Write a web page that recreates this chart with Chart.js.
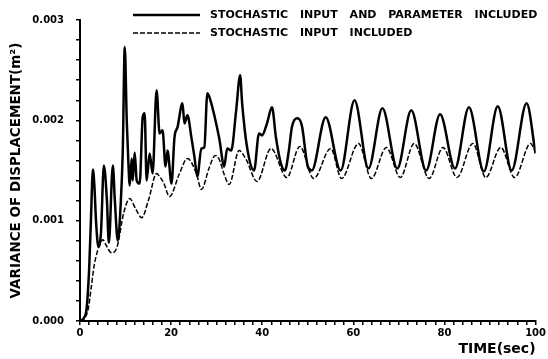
<!DOCTYPE html>
<html>
<head>
<meta charset="utf-8">
<script src="https://cdn.jsdelivr.net/npm/chart.js@4"></script>
<style>
  html, body { margin: 0; padding: 0; background: #fff; }
  #wrap { width: 548px; height: 359px; position: relative; }
</style>
</head>
<body>
<div id="wrap"><canvas id="chart"></canvas></div>
<script>
// variance values, in units of 1e-3 m^2
const seriesLabels = ['STOCHASTIC INPUT AND PARAMETER INCLUDED', 'STOCHASTIC INPUT INCLUDED'];

const paramTime = [0, 1.3, 2.0, 2.4, 2.84, 3.17, 3.5, 4.04, 4.6, 5.24, 5.9, 6.33, 7.21, 7.64, 8.3, 8.95, 9.39, 9.83,
  10.26, 10.6, 10.92, 11.35, 11.57, 12.0, 12.45, 13.1, 13.76, 14.19, 14.63, 15.28, 15.94, 16.81, 17.47, 18.12, 18.78,
  19.21, 20.09, 20.74, 21.4, 22.49, 22.93, 23.58, 24.45, 25.11, 25.76, 26.64, 27.29, 27.95, 28.82, 29.48, 30.57,
  31.66, 32.31, 33.19, 34.28, 35.15, 35.59, 36.68, 38.21, 39.3, 39.96, 41.05, 42.14, 43.01, 44.1, 44.98, 45.85,
  46.51, 47.6, 48.69, 50.0, 50.87, 53.93, 57.21, 60.26, 63.32, 66.38, 69.65, 72.71, 75.98, 79.04, 82.31, 85.37,
  88.65, 91.7, 94.76, 98.03, 100];
const paramVar = [0, 0.08, 0.51, 1.01, 1.51, 1.34, 1.01, 0.74, 0.88, 1.55, 1.21, 0.78, 1.55, 1.21, 0.8, 1.18, 1.7, 2.73,
  2.0, 1.6, 1.35, 1.62, 1.4, 1.68, 1.4, 1.37, 2.03, 2.07, 1.4, 1.67, 1.47, 2.3, 1.87, 1.9, 1.54,
  1.7, 1.37, 1.83, 1.93, 2.17, 1.97, 2.05, 1.83, 1.64, 1.44, 1.72, 1.73, 2.27, 2.17, 2.05, 1.82,
  1.54, 1.72, 1.7, 2.1, 2.45, 2.17, 1.73, 1.5, 1.87, 1.85, 1.97, 2.13, 1.83, 1.57, 1.5, 1.7,
  1.93, 2.02, 1.95, 1.54, 1.5, 2.03, 1.5, 2.2, 1.52, 2.12, 1.52, 2.1, 1.5, 2.06, 1.52, 2.13,
  1.49, 2.14, 1.5, 2.17, 1.67];

const inputTime = [0, 0.87, 1.75, 2.4, 3.06, 3.93, 5.02, 5.68, 6.88, 8.08, 9.61, 10.92, 12.2, 13.54, 15.07, 16.81,
  17.47, 18.34, 19.65, 21.83, 23.58, 25.55, 26.64, 28.38, 29.69, 30.57, 31.66, 32.75, 34.93, 36.46, 38.86, 41.92,
  45.41, 48.25, 51.31, 55.02, 57.42, 61.14, 63.97, 67.25, 70.31, 73.36, 76.64, 79.69, 82.75, 86.24, 89.08, 92.36,
  95.41, 98.91, 100];
const inputVar = [0, 0.02, 0.11, 0.31, 0.54, 0.71, 0.81, 0.76, 0.68, 0.73, 1.08, 1.22, 1.12, 1.03, 1.21, 1.47,
  1.44, 1.38, 1.24, 1.47, 1.62, 1.47, 1.31, 1.53, 1.65, 1.61, 1.46, 1.36, 1.7, 1.61, 1.39, 1.72,
  1.43, 1.74, 1.42, 1.72, 1.42, 1.77, 1.42, 1.73, 1.43, 1.77, 1.42, 1.73, 1.43, 1.77, 1.43, 1.73,
  1.43, 1.77, 1.68];

const UNIT = 1e-3;
const xMax = 100;
const yMax = 0.003;

function toPoints(ts, vs) {
  return ts.map((t, i) => ({ x: t, y: vs[i] * UNIT }));
}

const FONT = '"DejaVu Sans", sans-serif';

// legend drawn at the top, lines to the left of the labels
const legendPlugin = {
  id: 'topLegend',
  afterDraw(chart) {
    const ctx = chart.ctx;
    ctx.save();
    chart.data.datasets.forEach((ds, i) => {
      const y = 15 + i * 18;
      ctx.beginPath();
      ctx.strokeStyle = '#000';
      ctx.lineWidth = ds.borderWidth;
      ctx.setLineDash(ds.borderDash || []);
      ctx.moveTo(133, y);
      ctx.lineTo(200, y);
      ctx.stroke();
      ctx.setLineDash([]);
      ctx.fillStyle = '#000';
      ctx.font = 'bold 11px ' + FONT;
      ctx.textBaseline = 'middle';
      ctx.wordSpacing = '8px';
      ctx.fillText(ds.label, 210, y);
    });
    ctx.restore();
  }
};

const ctx = document.getElementById('chart').getContext('2d');
new Chart(ctx, {
  type: 'line',
  data: {
    datasets: [
      {
        label: seriesLabels[0],
        data: toPoints(paramTime, paramVar),
        borderColor: '#000',
        borderWidth: 2.5,
        pointRadius: 0,
        cubicInterpolationMode: 'monotone',
        fill: false
      },
      {
        label: seriesLabels[1],
        data: toPoints(inputTime, inputVar),
        borderColor: '#000',
        borderWidth: 1.5,
        borderDash: [5, 2],
        pointRadius: 0,
        cubicInterpolationMode: 'monotone',
        fill: false
      }
    ]
  },
  options: {
    responsive: true,
    maintainAspectRatio: false,
    animation: false,
    layout: { padding: { left: 0, top: 20, right: 10, bottom: 0 } },
    plugins: {
      legend: { display: false },
      tooltip: { enabled: false }
    },
    scales: {
      x: {
        type: 'linear',
        min: 0,
        max: xMax,
        afterFit(scale) { scale.height = 38; },
        border: { color: '#000', width: 2 },
        grid: { drawOnChartArea: false, color: '#000', lineWidth: 1.5, tickLength: 4 },
        ticks: {
          stepSize: 2,
          autoSkip: false,
          maxRotation: 0,
          padding: 2,
          color: '#000',
          font: { family: FONT, size: 10, weight: 'bold' },
          callback: v => (Math.round(v) % 20 === 0 ? String(Math.round(v)) : '')
        },
        title: {
          display: true,
          text: 'TIME(sec)',
          align: 'end',
          color: '#000',
          padding: { top: 0, bottom: 1 },
          font: { family: FONT, size: 14, weight: 'bold' }
        }
      },
      y: {
        min: 0,
        max: yMax,
        afterFit(scale) { scale.width = 80; },
        border: { color: '#000', width: 2 },
        grid: { drawOnChartArea: false, color: '#000', lineWidth: 1.5, tickLength: 4 },
        ticks: {
          stepSize: 0.0002,
          autoSkip: false,
          padding: 12,
          color: '#000',
          font: { family: FONT, size: 10, weight: 'bold' },
          callback: v => (Math.round(v * 10000) % 10 === 0 ? v.toFixed(3) : '')
        },
        title: {
          display: true,
          text: 'VARIANCE OF DISPLACEMENT(m²)',
          color: '#000',
          padding: { top: 8, bottom: 4 },
          font: { family: FONT, size: 13.5, weight: 'bold' }
        }
      }
    }
  },
  plugins: [legendPlugin]
});
</script>
</body>
</html>
